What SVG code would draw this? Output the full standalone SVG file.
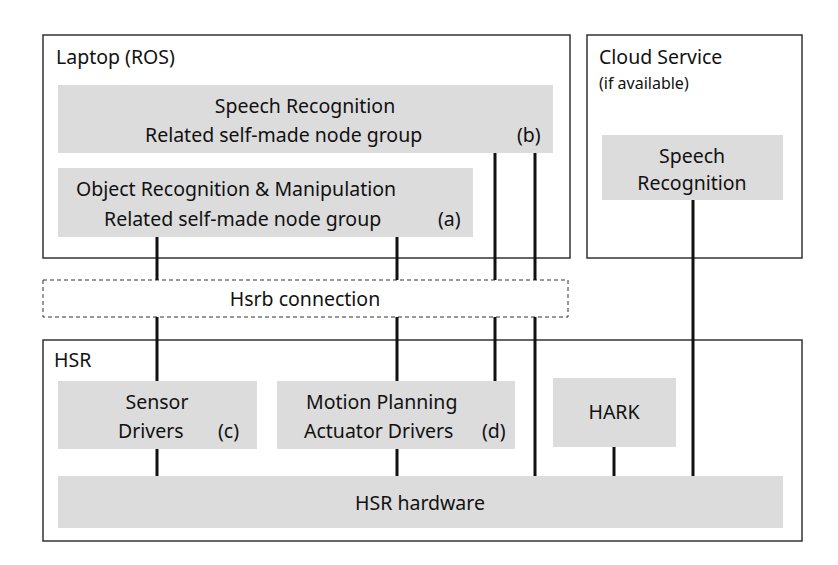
<svg xmlns="http://www.w3.org/2000/svg" width="838" height="565" viewBox="0 0 838 565">
<style>
.c{fill:none;stroke:#333;stroke-width:1.5}
.n{fill:#dcdcdc}
text{font-family:"Noto Sans","Open Sans",sans-serif;font-size:19.5px;fill:#111}
.m{text-anchor:middle}
.l{stroke:#111;stroke-width:3}
</style>
<rect width="838" height="565" fill="#fff"/>
<g id="laptop"><rect class="c" x="43" y="35" width="527" height="223"/><text x="56" y="64">Laptop (ROS)</text></g>
<g id="cloud"><rect class="c" x="587" y="35" width="215" height="223"/><text x="599" y="64">Cloud Service</text><text x="599" y="89" style="font-size:16px">(if available)</text></g>
<g id="hsrb"><rect class="c" x="43" y="280" width="525" height="37" style="stroke-dasharray:4 3;stroke-width:1"/><text class="m" x="305" y="306">Hsrb connection</text></g>
<g id="hsr"><rect class="c" x="43" y="340" width="759" height="201"/><text x="54" y="367">HSR</text></g>
<g id="connectors">
<line class="l" x1="157" y1="237" x2="157" y2="280"/><line class="l" x1="157" y1="317" x2="157" y2="381"/><line class="l" x1="157" y1="449" x2="157" y2="476"/>
<line class="l" x1="397" y1="237" x2="397" y2="280"/><line class="l" x1="397" y1="317" x2="397" y2="381"/><line class="l" x1="397" y1="449" x2="397" y2="476"/>
<line class="l" x1="495" y1="153" x2="495" y2="280"/><line class="l" x1="495" y1="317" x2="495" y2="381"/>
<line class="l" x1="535" y1="153" x2="535" y2="280"/><line class="l" x1="535" y1="317" x2="535" y2="476"/>
<line class="l" x1="614" y1="447" x2="614" y2="476"/>
<line class="l" x1="693" y1="200" x2="693" y2="476"/>
</g>
<g id="speech"><rect class="n" x="58" y="85" width="495" height="68"/><text class="m" x="305" y="113">Speech Recognition</text><text x="145" y="142">Related self-made node group</text><text x="517" y="142">(b)</text></g>
<g id="object"><rect class="n" x="58" y="168" width="415" height="69"/><text x="76" y="196">Object Recognition &amp; Manipulation</text><text x="104" y="226">Related self-made node group</text><text x="438" y="226">(a)</text></g>
<g id="cloudspeech"><rect class="n" x="602" y="135" width="181" height="65"/><text class="m" x="692" y="163">Speech</text><text class="m" x="692" y="190">Recognition</text></g>
<g id="sensor"><rect class="n" x="58" y="381" width="199" height="68"/><text class="m" x="157" y="409">Sensor</text><text x="118" y="438">Drivers</text><text x="218" y="438">(c)</text></g>
<g id="motion"><rect class="n" x="277" y="381" width="238" height="68"/><text x="306" y="409">Motion Planning</text><text x="304" y="438">Actuator Drivers</text><text x="482" y="438">(d)</text></g>
<g id="hark"><rect class="n" x="553" y="378" width="123" height="69"/><text class="m" x="614" y="419">HARK</text></g>
<g id="hardware"><rect class="n" x="58" y="476" width="725" height="52"/><text class="m" x="420" y="510">HSR hardware</text></g>
</svg>
